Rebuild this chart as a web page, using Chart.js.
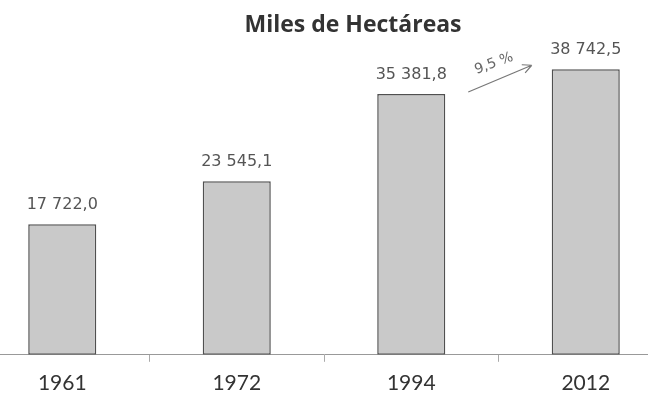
<!DOCTYPE html>
<html lang="es">
<head>
<meta charset="utf-8">
<title>Miles de Hectáreas</title>
<script src="https://cdn.jsdelivr.net/npm/chart.js@4.4.1/dist/chart.umd.min.js"></script>
<style>
    html, body { margin: 0; padding: 0; background: #ffffff; }
    #wrap { position: relative; width: 648px; height: 405px; overflow: hidden; }
    #inner { position: absolute; left: -25px; top: 0; width: 698px; height: 405px; }
</style>
</head>
<body>
<div id="wrap">
    <div id="inner">
        <canvas id="graficoHectareas"></canvas>
    </div>
</div>
<script>
// Datos del gráfico
const anios = ['1961', '1972', '1994', '2012'];
const hectareas = [17722.0, 23545.1, 35381.8, 38742.5];
const variacion = '9,5 %';
const titulo = 'Miles de Hectáreas';

// Formato "17 722,0"
function formatoNumero(v) {
    const partes = v.toFixed(1).split('.');
    const entero = partes[0].replace(/\B(?=(\d{3})+(?!\d))/g, ' ');
    return entero + ',' + partes[1];
}

// Plugin para etiquetas, título y flecha
const etiquetasPlugin = {
    id: 'etiquetas',
    afterDatasetsDraw(chart) {
        const ctx = chart.ctx;
        const meta = chart.getDatasetMeta(0);
        ctx.save();

        // Valores encima de las barras
        ctx.fillStyle = '#555555';
        ctx.font = '16px "DejaVu Sans"';
        ctx.textAlign = 'center';
        ctx.textBaseline = 'middle';
        meta.data.forEach(function(bar, i) {
            ctx.fillText(formatoNumero(hectareas[i]), bar.x, bar.y - 19);
        });

        // Título
        ctx.fillStyle = '#333333';
        ctx.font = 'bold 23px "Open Sans"';
        ctx.fillText(titulo, chart.width / 2 + 29, 25);

        // Flecha entre 1994 y 2012
        const b3 = meta.data[2];
        const b4 = meta.data[3];
        const x1 = b3.x + 57, y1 = b3.y - 2;
        const x2 = b4.x - 54, y2 = b4.y - 4;
        ctx.strokeStyle = '#777777';
        ctx.lineWidth = 1.2;
        ctx.beginPath();
        ctx.moveTo(x1, y1);
        ctx.lineTo(x2, y2);
        const ang = Math.atan2(y2 - y1, x2 - x1);
        ctx.moveTo(x2, y2);
        ctx.lineTo(x2 - 10 * Math.cos(ang - 0.45), y2 - 10 * Math.sin(ang - 0.45));
        ctx.moveTo(x2, y2);
        ctx.lineTo(x2 - 10 * Math.cos(ang + 0.45), y2 - 10 * Math.sin(ang + 0.45));
        ctx.stroke();

        // Texto del porcentaje
        ctx.translate((x1 + x2) / 2 - 6, (y1 + y2) / 2 - 15);
        ctx.rotate(-0.35);
        ctx.fillStyle = '#666666';
        ctx.font = '14px "DejaVu Sans"';
        ctx.fillText(variacion, 0, 0);
        ctx.restore();
    }
};

document.addEventListener('DOMContentLoaded', function() {
    const canvas = document.getElementById('graficoHectareas');
    if (!canvas) return;

    new Chart(canvas, {
        type: 'bar',
        data: {
            labels: anios,
            datasets: [{
                label: titulo,
                data: hectareas,
                backgroundColor: '#c9c9c9',
                borderColor: '#505050',
                borderWidth: 1.5,
                borderSkipped: false,
                barPercentage: 0.39,
                categoryPercentage: 1
            }]
        },
        options: {
            responsive: true,
            maintainAspectRatio: false,
            animation: false,
            layout: { padding: { top: 60, bottom: 0, left: 0, right: 0 } },
            plugins: {
                legend: { display: false },
                title: { display: false },
                tooltip: { enabled: false }
            },
            scales: {
                y: {
                    display: false,
                    min: 0,
                    max: 40000
                },
                x: {
                    grid: {
                        offset: true,
                        drawOnChartArea: false,
                        drawTicks: true,
                        tickLength: 7,
                        color: '#aaaaaa'
                    },
                    border: { display: true, color: '#999999', width: 1 },
                    ticks: {
                        color: '#333333',
                        padding: 9,
                        font: { family: 'Lato', size: 21 }
                    }
                }
            }
        },
        plugins: [etiquetasPlugin]
    });
});
</script>
</body>
</html>
